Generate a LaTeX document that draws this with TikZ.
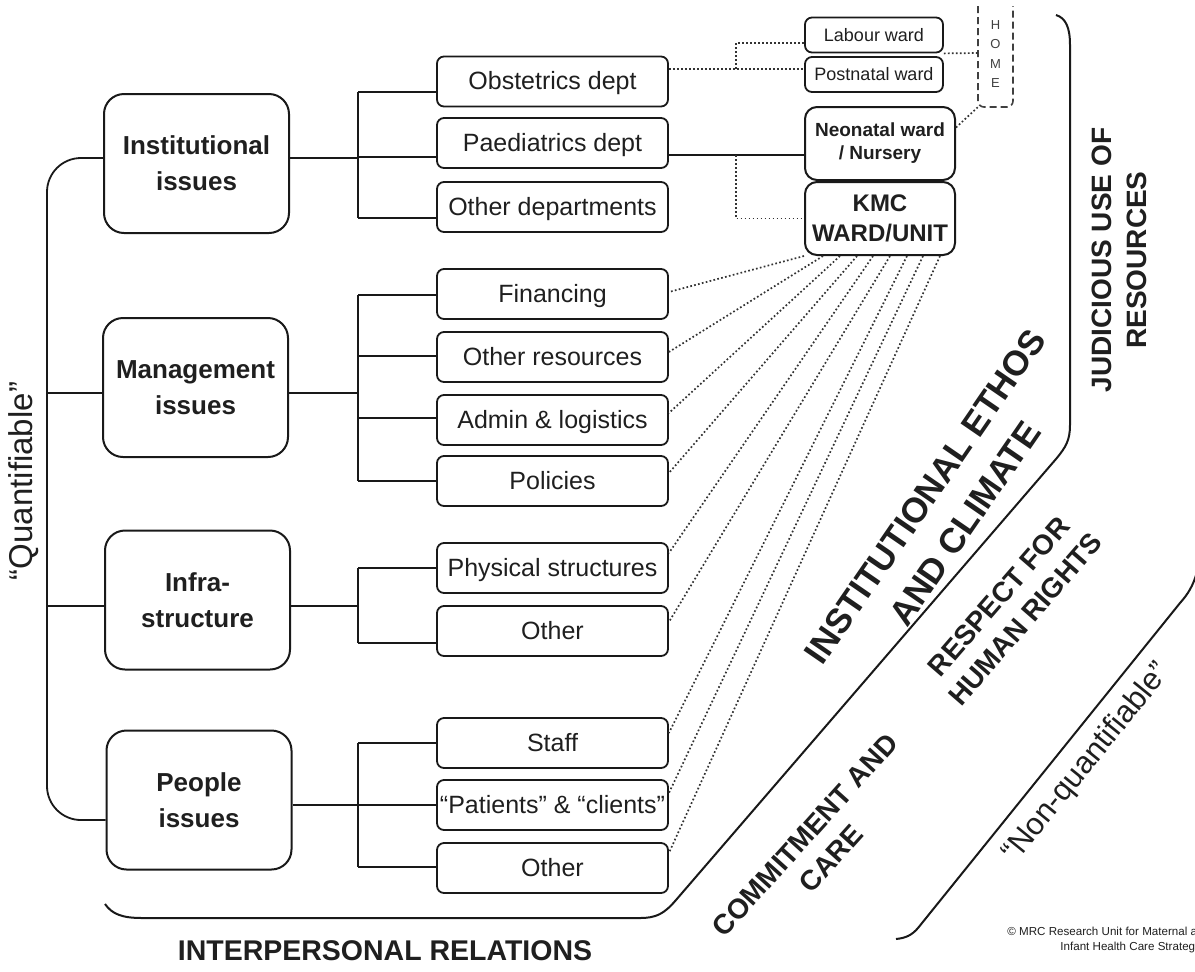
\documentclass[tikz,border=0pt]{standalone}
\usepackage{fontspec}
\setmainfont{Liberation Sans}
\usetikzlibrary{calc}
\newcommand\myfs[2]{\fontsize{#1}{#2}\selectfont}
\begin{document}
\begin{tikzpicture}[x=0.5pt,y=-0.5pt,
  every node/.style={text=black!88, inner sep=0pt},
  mainbox/.style={draw=black!90, line width=1pt, rounded corners=10pt, minimum width=92.5pt, minimum height=69.5pt, align=center, font=\bfseries\myfs{13}{18}},
  subbox/.style={draw=black!90, line width=0.9pt, rounded corners=3.5pt, minimum width=115.5pt, minimum height=25pt, text height=8.6pt, text depth=0.4pt, font=\myfs{12.5}{15}},
  wardbox/.style={draw=black!90, line width=0.9pt, rounded corners=3.5pt, minimum width=69pt, minimum height=17.5pt, text height=6.4pt, text depth=0.2pt, font=\myfs{9}{11}},
  bigward/.style={draw=black!90, line width=1pt, rounded corners=6pt, minimum width=75pt, minimum height=36.5pt, align=center},
  tree/.style={draw=black!90, line width=0.9pt},
  dotline/.style={draw=black!80, line width=0.85pt, dash pattern=on 0.85pt off 1.15pt},
  homeline/.style={draw=black!75, line width=0.8pt, dash pattern=on 3.5pt off 2pt},
  region/.style={draw=black!90, line width=1pt},
  bigtxt/.style={font=\bfseries\myfs{14}{17.5}, align=center},
]
\useasboundingbox (0,0) rectangle (1195,971);
\clip (0,0) rectangle (1195,971);

% main boxes
\node[mainbox] (inst) at (196.5,163.5) {Institutional\\issues};
\node[mainbox] (mgmt) at (195.5,387.5) {Management\\issues};
\node[mainbox] (infra) at (197.5,600) {Infra-\\structure};
\node[mainbox] (people) at (199,800) {People\\issues};

% sub boxes
\node[subbox] (obst) at (552.5,81.5) {Obstetrics dept};
\node[subbox] (paed) at (552.5,143) {Paediatrics dept};
\node[subbox] (othdep) at (552.5,207) {Other departments};
\node[subbox] (fin) at (552.5,294) {Financing};
\node[subbox] (othres) at (552.5,357) {Other resources};
\node[subbox] (admin) at (552.5,420) {Admin \& logistics};
\node[subbox] (pol) at (552.5,481) {Policies};
\node[subbox] (phys) at (552.5,568) {Physical structures};
\node[subbox] (infoth) at (552.5,631) {Other};
\node[subbox] (staff) at (552.5,743) {Staff};
\node[subbox] (pat) at (552.5,805) {“Patients” \& “clients”};
\node[subbox] (poth) at (552.5,868) {Other};

% wards
\node[wardbox] (lab) at (874,35) {Labour ward};
\node[wardbox] (post) at (874,74.5) {Postnatal ward};
\node[bigward, font=\bfseries\myfs{9.5}{11.5}] (neo) at (880,143.5) {Neonatal ward\\/ Nursery};
\node[bigward, font=\bfseries\myfs{12}{15}] (kmc) at (880,218.5) {KMC\\WARD/UNIT};

% HOME
\draw[homeline, rounded corners=3pt] (978,6) -- (978,107) -- (1013,107) -- (1013,6);
\node[font=\myfs{6.5}{9.75}, align=center, text=black!75] (home) at (995.5,54) {H\\O\\M\\E};
\coordinate (homeL) at (978,53);
\coordinate (homeBL) at (978,107);

% tree connectors
\coordinate (tx) at (358,0);
\coordinate (qx) at (47,0);
\coordinate (bx) at (736,0);

% institutional
\coordinate (iE) at ([yshift=2.75pt]inst.east);
\coordinate (b1) at ([yshift=-5.25pt]obst.west);
\coordinate (b2) at ([yshift=-7pt]paed.west);
\coordinate (b3) at ([yshift=-5.5pt]othdep.west);
\draw[tree] (iE) -- (iE -| tx);
\draw[tree] (b1 -| tx) -- (b3 -| tx);
\foreach \b in {b1,b2,b3} \draw[tree] (\b) -- (\b -| tx);

% management
\coordinate (mE) at ([yshift=-2.75pt]mgmt.east);
\coordinate (c1) at ([yshift=-0.5pt]fin.west);
\coordinate (c2) at ([yshift=0.5pt]othres.west);
\coordinate (c3) at ([yshift=1pt]admin.west);
\coordinate (c4) at (pol.west);
\draw[tree] (mE) -- (mE -| tx);
\draw[tree] (c1 -| tx) -- (c4 -| tx);
\foreach \b in {c1,c2,c3,c4} \draw[tree] (\b) -- (\b -| tx);

% infrastructure
\coordinate (fE) at ([yshift=-3pt]infra.east);
\coordinate (d1) at (phys.west);
\coordinate (d2) at ([yshift=-6pt]infoth.west);
\draw[tree] (fE) -- (fE -| tx);
\draw[tree] (d1 -| tx) -- (d2 -| tx);
\foreach \b in {d1,d2} \draw[tree] (\b) -- (\b -| tx);

% people
\coordinate (pplE) at ([yshift=-2.5pt]people.east);
\coordinate (e1) at (staff.west);
\coordinate (e2) at (pat.west);
\coordinate (e3) at ([yshift=0.5pt]poth.west);
\draw[tree] (pplE) -- (pplE -| tx);
\draw[tree] (e1 -| tx) -- (e3 -| tx);
\foreach \b in {e1,e2,e3} \draw[tree] (\b) -- (\b -| tx);

% left bracket
\coordinate (iW) at ([yshift=2.75pt]inst.west);
\coordinate (pW) at ([yshift=-10pt]people.west);
\coordinate (mW) at ([yshift=-2.75pt]mgmt.west);
\coordinate (fW) at ([yshift=-3pt]infra.west);
\draw[tree, rounded corners=17pt] (iW) -| (qx |- pW) -- (pW);
\draw[tree] (mW) -- (mW -| qx);
\draw[tree] (fW) -- (fW -| qx);

% ward connectors
\coordinate (oE) at ([yshift=6.25pt]obst.east);
\coordinate (lW) at ([yshift=-4pt]lab.west);
\draw[dotline] (oE) -- (oE -| post.west);
\draw[dotline] (oE -| bx) |- (lW);
\draw[dotline] (lab.south east) -- (homeL);
\coordinate (nE) at ([yshift=8pt]neo.east);
\draw[dotline] (nE) -- (homeBL);
\coordinate (pE) at ([yshift=-6pt]paed.east);
\draw[tree] (pE) -- (pE -| neo.west);
\draw[dotline] (pE -| bx) |- (kmc.west);

% fan from KMC
\draw[dotline] (kmc.south west) -- ([yshift=1pt]fin.east);
\draw[dotline] ([xshift=-28.5pt]kmc.south) -- ([yshift=2.5pt]othres.east);
\draw[dotline] ([xshift=-20pt]kmc.south) -- ([yshift=3.5pt]admin.east);
\draw[dotline] ([xshift=-11.5pt]kmc.south) -- ([yshift=4pt]pol.east);
\draw[dotline] ([xshift=-3.5pt]kmc.south) -- ([yshift=7.5pt]phys.east);
\draw[dotline] ([xshift=5pt]kmc.south) -- ([yshift=4.5pt]infoth.east);
\draw[dotline] ([xshift=13.5pt]kmc.south) -- ([yshift=5pt]staff.east);
\draw[dotline] ([xshift=21.5pt]kmc.south) -- ([yshift=6pt]pat.east);
\draw[dotline] ([xshift=30pt]kmc.south) -- ([yshift=7.5pt]poth.east);

% region lines
\draw[region] (105,904) .. controls (112,914) and (122,918) .. (142,918) -- (640,918)
  .. controls (656,918) and (664,914) .. (676,900) -- (1056,459)
  .. controls (1066,447) and (1070,440) .. (1070,425) -- (1070,45)
  .. controls (1070,28) and (1066,18) .. (1056,15);
\draw[region] (1197,572) .. controls (1193,586) and (1188,594) .. (1180,603) -- (918,928)
  .. controls (912,935) and (906,938) .. (896,939);

% labels
\node[font=\myfs{16.5}{20}, rotate=90] (quant) at (24,481) {“Quantifiable”};
\node[font=\bfseries\myfs{14.25}{17}] (ipr) at (385,951) {INTERPERSONAL RELATIONS};
\node[bigtxt, rotate=90] (jud) at (1119,260) {JUDICIOUS USE OF\\RESOURCES};
\node[bigtxt, rotate=48] (comm) at (818,847) {COMMITMENT AND\\CARE};
\node[bigtxt, rotate=49] (resp) at (1012,608) {RESPECT FOR\\HUMAN RIGHTS};
\node[font=\bfseries\myfs{17.5}{24}, align=center, rotate=55.5] (insteth) at (945,510) {INSTITUTIONAL ETHOS\\AND CLIMATE};
\node[font=\myfs{15.5}{18}, rotate=51] (nonq) at (1087,763) {“Non-quantifiable”};
\node[font=\myfs{5.8}{7}, anchor=base west] (copy1) at (1007,935) {© MRC Research Unit for Maternal and};
\node[font=\myfs{5.8}{7}, anchor=base west] (copy2) at (1060,950) {Infant Health Care Strategies};
\end{tikzpicture}
\end{document}
